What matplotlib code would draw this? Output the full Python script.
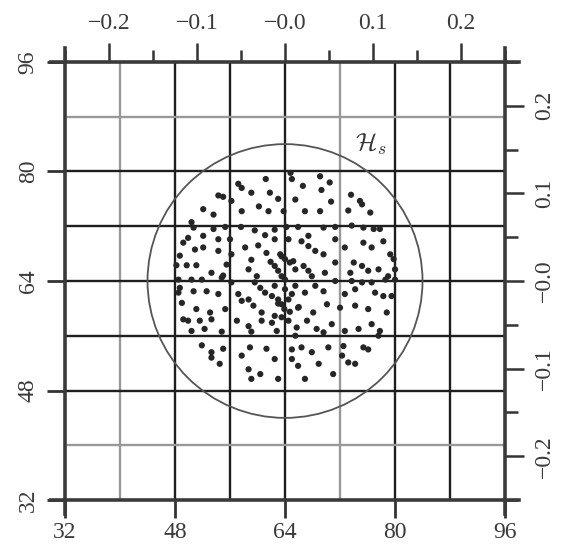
import matplotlib
matplotlib.use("Agg")
import matplotlib.pyplot as plt
from matplotlib.patches import Circle
from matplotlib.ticker import FixedLocator, FixedFormatter

plt.rcParams['font.family'] = ['Liberation Serif', 'DejaVu Serif']
plt.rcParams['mathtext.fontset'] = 'cm'

#------------------ data ------------------
dot_x = [61.2, 64.8, 65.0, 66.6, 69.1, 70.5, 57.2, 57.7, 59.1, 61.8, 63.0, 65.5, 69.3, 70.7,
         73.6, 74.9, 75.2, 76.4, 54.3, 55.0, 56.2, 52.1, 53.6, 57.7, 60.2, 61.6, 63.8, 66.9,
         69.1, 73.2, 50.4, 50.7, 53.6, 55.3, 57.6, 59.6, 61.1, 62.5, 64.2, 65.9, 67.4, 69.6,
         71.3, 73.7, 75.4, 76.9, 77.8, 49.2, 49.9, 52.1, 54.3, 56.0, 58.2, 60.1, 61.3, 62.5,
         64.5, 66.4, 67.4, 68.4, 69.6, 71.3, 72.7, 75.4, 76.6, 78.3, 79.3, 48.7, 50.9, 52.1,
         54.3, 56.2, 59.1, 63.5, 64.0, 64.7, 71.3, 74.0, 75.2, 77.6, 79.8, 48.2, 49.7, 51.1,
         53.3, 55.0, 55.5, 58.7, 59.9, 62.5, 63.0, 66.7, 67.4, 67.9, 69.8, 73.5, 76.1, 79.0,
         80.0, 48.5, 48.7, 50.4, 51.9, 54.8, 56.2, 59.6, 60.4, 61.1, 62.1, 64.0, 64.0, 65.5,
         68.4, 71.3, 73.7, 75.2, 76.6, 78.6, 80.0, 48.5, 50.7, 52.6, 54.3, 57.2, 58.7, 63.0,
         63.5, 64.5, 66.9, 69.6, 72.7, 74.2, 77.1, 78.3, 79.5, 49.0, 51.1, 53.1, 55.3, 57.7,
         59.4, 60.6, 62.5, 63.5, 65.9, 68.1, 70.1, 72.0, 74.2, 76.1, 78.8, 49.2, 49.9, 51.6,
         53.3, 57.0, 58.7, 60.6, 62.1, 64.5, 65.7, 67.2, 68.6, 70.8, 72.7, 74.7, 76.6, 77.8,
         77.6, 50.4, 52.3, 54.8, 59.1, 62.8, 65.5, 69.6, 51.9, 53.3, 53.3, 55.0, 54.5, 57.7,
         58.9, 61.3, 58.7, 59.1, 60.4, 62.5, 65.0, 66.4, 67.9, 65.0, 65.9, 66.9, 63.0, 68.9,
         70.3, 71.0, 72.3, 73.2, 74.2, 75.4, 76.1, 72.5,
         63.3, 65.2, 65.5, 63.5, 62.5, 65.0, 63.0, 63.9, 64.7, 61.9, 66.0]
dot_y = [78.9, 79.8, 78.9, 77.9, 79.3, 78.4, 78.2, 77.6, 76.9, 76.9, 76.0, 75.9, 77.3, 75.6,
         76.6, 75.7, 75.2, 74.0, 76.5, 76.3, 75.7, 74.5, 73.7, 74.2, 74.9, 74.2, 74.2, 74.2,
         74.2, 74.3, 72.6, 71.8, 71.6, 71.9, 71.9, 71.4, 70.7, 71.5, 71.9, 71.9, 70.6, 71.8,
         71.9, 72.1, 71.8, 71.6, 71.6, 69.6, 70.3, 70.6, 70.1, 70.1, 68.9, 69.2, 68.1, 70.1,
         70.1, 69.8, 69.1, 68.4, 67.9, 70.1, 68.9, 69.6, 68.9, 69.8, 67.9, 67.7, 68.6, 68.9,
         68.4, 67.9, 67.1, 67.6, 67.2, 66.7, 66.7, 66.7, 66.2, 65.7, 67.2, 66.3, 66.3, 66.3,
         65.2, 64.8, 66.4, 65.7, 64.7, 66.2, 65.5, 66.2, 65.5, 64.7, 65.2, 65.2, 65.5, 64.7,
         65.7, 64.2, 63.0, 64.2, 64.2, 64.5, 63.8, 63.8, 63.0, 62.3, 61.8, 64.2, 62.8, 63.3,
         63.3, 64.0, 64.0, 63.8, 63.8, 64.2, 64.2, 62.3, 62.5, 62.5, 62.1, 62.1, 61.3, 61.3,
         60.6, 61.3, 62.3, 62.5, 62.1, 62.8, 62.3, 61.8, 61.8, 60.8, 59.9, 59.4, 59.9, 61.1,
         60.4, 59.4, 58.9, 58.7, 60.1, 59.4, 60.6, 60.1, 60.4, 59.9, 59.4, 58.4, 58.2, 58.2,
         58.4, 58.2, 57.4, 58.2, 57.9, 58.2, 57.2, 58.2, 57.0, 57.7, 56.7, 57.0, 57.7, 56.7,
         56.0, 56.7, 57.0, 56.6, 56.6, 56.7, 56.0, 56.5, 54.6, 53.6, 52.8, 54.1, 51.9, 53.1,
         54.3, 54.1, 51.1, 49.7, 50.4, 52.6, 54.0, 54.3, 53.6, 52.6, 51.6, 49.7, 49.7, 51.9,
         54.3, 50.4, 53.1, 52.1, 51.9, 54.3, 54.0, 54.5,
         67.9, 66.9, 65.7, 64.7, 63.3, 62.1, 60.7, 59.9, 59.5, 66.8, 60.2]

circle_center = (64, 64)
circle_radius = 20
grid_vals = [40, 48, 56, 64, 72, 80, 88]
main_ticks = [32, 48, 64, 80, 96]
sec_major = [-0.2, -0.1, 0.0, 0.1, 0.2]
sec_labels = ["\u22120.2", "\u22120.1", "\u22120.0", "0.1", "0.2"]
sec_minor = [-0.25, -0.15, -0.05, 0.05, 0.15, 0.25]
#---------------------------------------------------------------

fig = plt.figure(figsize=(5.62, 5.56), dpi=100)
ax = fig.add_axes([0.1157, 0.1007, 0.7829, 0.7878])
ax.set_xlim(32, 96)
ax.set_ylim(32, 96)

# grid lines, some print lighter than others
light = [40, 72]
for v in grid_vals:
    c = '#999999' if v in light else '#1e1e1e'
    ax.axvline(v, color=c, lw=1.7, zorder=1)
light_h = [40, 88]
for v in grid_vals:
    c = '#999999' if v in light_h else '#1e1e1e'
    ax.axhline(v, color=c, lw=1.7, zorder=1)

# frame lines, sticking out a little past the corners
for s in ax.spines.values():
    s.set_visible(False)
fc = '#3a3a3a'
ax.plot([32, 32], [30, 98], color=fc, lw=2.6, clip_on=False, zorder=3)
ax.plot([96, 96], [30, 98], color=fc, lw=2.6, clip_on=False, zorder=3)
ax.plot([30, 98], [32, 32], color=fc, lw=2.6, clip_on=False, zorder=3)
ax.plot([30, 98], [96, 96], color=fc, lw=2.6, clip_on=False, zorder=3)

ax.add_patch(Circle(circle_center, circle_radius, fill=False, ec='#555555', lw=1.3, zorder=2))
ax.scatter(dot_x, dot_y, s=20, color='#262626', edgecolors='none', zorder=4)
ax.text(76.5, 84.0, r'$\mathcal{H}_s$', fontsize=18, ha='center', va='center', color='#333333')

ax.set_xticks(main_ticks)
ax.set_yticks(main_ticks)
ax.tick_params(axis='both', direction='out', length=13, width=2.0, color='#333333',
               labelsize=17, labelcolor='#3a3a3a')
ax.tick_params(axis='x', pad=3)
ax.tick_params(axis='y', pad=6)
for lab in ax.get_yticklabels():
    lab.set_rotation(90)
    lab.set_va('center')

top = ax.secondary_xaxis('top', functions=(lambda x: (x - 64) / 128, lambda t: t * 128 + 64))
top.xaxis.set_major_locator(FixedLocator(sec_major))
top.xaxis.set_major_formatter(FixedFormatter(sec_labels))
top.xaxis.set_minor_locator(FixedLocator(sec_minor))
top.tick_params(which='major', direction='out', length=14, width=1.8, color='#333333',
                labelsize=17, labelcolor='#3a3a3a', pad=6)
top.tick_params(which='minor', direction='out', length=9, width=1.8, color='#333333')
top.spines['top'].set_visible(False)

right = ax.secondary_yaxis('right', functions=(lambda y: (y - 64) / 128, lambda t: t * 128 + 64))
right.yaxis.set_major_locator(FixedLocator(sec_major))
right.yaxis.set_major_formatter(FixedFormatter(sec_labels))
right.yaxis.set_minor_locator(FixedLocator(sec_minor))
right.tick_params(which='major', direction='out', length=14, width=1.8, color='#333333',
                  labelsize=17, labelcolor='#3a3a3a', pad=7)
right.tick_params(which='minor', direction='out', length=9, width=1.8, color='#333333')
right.spines['right'].set_visible(False)
for lab in right.get_yticklabels():
    lab.set_rotation(90)
    lab.set_va('center')

fig.savefig("out.png", dpi=100)
